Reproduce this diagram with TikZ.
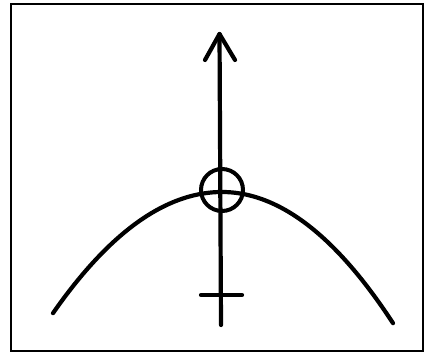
\documentclass[tikz,border=0pt]{standalone}
\begin{document}
\begin{tikzpicture}[x=1pt,y=-1pt,
  ink/.style={line width=4.2pt,line cap=round,line join=round},
  frame/.style={line width=2pt}]
\useasboundingbox (0,0) rectangle (427,358);
\draw[frame] (10.5,4) rectangle (423,351);
% axis
\coordinate (bot) at (221,325);
\coordinate (tip) at (219.5,34);
\coordinate (wl) at (205,60);
\coordinate (wr) at (235,60);
\draw[ink] (bot) -- (tip);
\draw[ink] (wl) -- (tip) -- (wr);
% parabola
\draw[ink] plot[domain=53:222,samples=60,smooth] (\x,{192+0.00424*(\x-222)*(\x-222)})
  -- plot[domain=222:393,samples=60,smooth] (\x,{192+0.00448*(\x-222)*(\x-222)});
% circle
\node[circle,draw,line width=4pt,minimum size=42pt,inner sep=0pt] (c) at (222,190) {};
% cross bar
\coordinate (cl) at (201,295);
\coordinate (cr) at (242,295);
\draw[ink] (cl) -- (cr);
\end{tikzpicture}
\end{document}
